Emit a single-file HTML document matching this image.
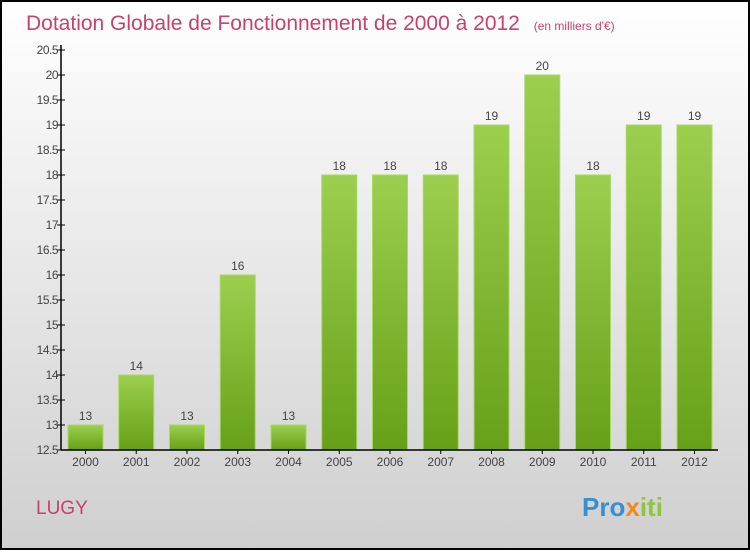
<!DOCTYPE html>
<html><head><meta charset="utf-8"><style>
html,body{margin:0;padding:0}
body{width:750px;height:550px;overflow:hidden;font-family:"Liberation Sans",sans-serif}
</style></head><body>
<svg id="chart" width="750" height="550" xmlns="http://www.w3.org/2000/svg">
<defs>
<linearGradient id="bg" x1="0" y1="0" x2="0" y2="1"><stop offset="0" stop-color="#ffffff"/><stop offset="1" stop-color="#cfcfcf"/></linearGradient>
<linearGradient id="bar" x1="0" y1="0" x2="0" y2="1"><stop offset="0" stop-color="#9ccf4e"/><stop offset="1" stop-color="#66a018"/></linearGradient>
</defs>
<rect x="1" y="1" width="748" height="548" fill="url(#bg)" stroke="#000" stroke-width="2"/>
<text x="26" y="30" font-size="21" fill="#c8406e">Dotation Globale de Fonctionnement de 2000 à 2012 <tspan font-size="12" dx="8">(en milliers d'€)</tspan></text>
<g id="grid"></g>
<g id="bars"></g>
<g id="axes"></g>
<text x="36" y="514" font-size="19" fill="#c8406e">LUGY</text>
<text x="582" y="516" font-size="26" font-weight="bold"><tspan fill="#3a8fd0">Pro</tspan><tspan fill="#f08a1c">x</tspan><tspan fill="#8cc63e">iti</tspan></text>
</svg>
<script>
const categories=["2000","2001","2002","2003","2004","2005","2006","2007","2008","2009","2010","2011","2012"];
const values=[13,14,13,16,13,18,18,18,19,20,18,19,19];
const yTicks=[12.5,13,13.5,14,14.5,15,15.5,16,16.5,17,17.5,18,18.5,19,19.5,20,20.5];
const NS="http://www.w3.org/2000/svg";
const y0=450,yMin=12.5,pxPerUnit=50;
function yScale(v){return y0-(v-yMin)*pxPerUnit;}
function xScale(i){return 85.5+i*50.75;}
function mk(tag,attrs,parent){const e=document.createElementNS(NS,tag);for(const k in attrs)e.setAttribute(k,attrs[k]);parent.appendChild(e);return e;}
const bars=document.getElementById('bars'),axes=document.getElementById('axes');
values.forEach((v,i)=>{
  const cx=xScale(i),y=yScale(v);
  const r=mk('rect',{x:cx-17.5,y:y,width:35,height:y0-y,fill:'url(#bar)',stroke:'#a8d868','stroke-width':1},bars);
  
  
  const t=mk('text',{x:cx,y:y-5,'text-anchor':'middle','font-size':12,fill:'#444'},bars);
  t.textContent=String(v);
  
  
  const tk=mk('line',{x1:cx,x2:cx,y1:y0,y2:y0+4,stroke:'#000'},axes);
  
  
  const xl=mk('text',{x:cx,y:y0+16,'text-anchor':'middle','font-size':12,fill:'#444'},axes);
  xl.textContent=categories[i];
  
  
});
yTicks.forEach(v=>{
  const y=yScale(v);
  const l=mk('line',{x1:57,x2:65,y1:y,y2:y,stroke:'#000'},axes);
  
  
  const t=mk('text',{x:58,y:y+4,'text-anchor':'end','font-size':12,fill:'#444','letter-spacing':'-0.5'},axes);
  t.textContent=String(v);
  
  
});
const ya=mk('line',{x1:61,x2:61,y1:45,y2:y0,stroke:'#000','stroke-width':1.5},axes);


const xa=mk('line',{x1:61,x2:718,y1:y0,y2:y0,stroke:'#000','stroke-width':1.5},axes);


</script>
</body></html>
